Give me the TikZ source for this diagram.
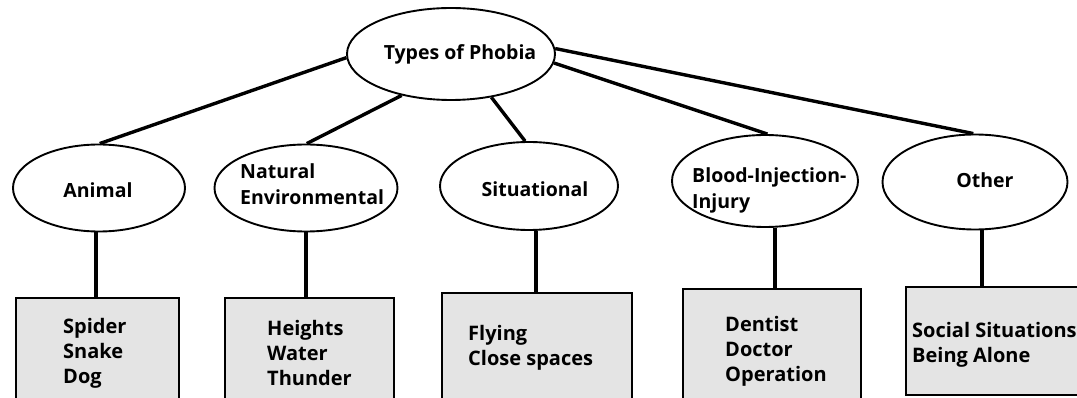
\documentclass[tikz,border=0pt]{standalone}
\usepackage{fontspec}
\setmainfont{Open Sans}
\usetikzlibrary{shapes.geometric}
\definecolor{boxgray}{RGB}{228,228,228}
\begin{document}
\begin{tikzpicture}[x=1pt,y=-1pt,
  oval/.style={draw, ellipse, line width=1.9pt, inner sep=0pt},
  lbl/.style={font=\bfseries\fontsize{19.5}{26}\selectfont, align=left, inner sep=0pt},
  itembox/.style={draw, line width=2.3pt, fill=boxgray, anchor=north west, inner sep=0pt},
  itemtxt/.style={font=\bfseries\fontsize{20}{25}\selectfont, align=left, inner sep=0pt, anchor=west},
  link/.style={line width=3.4pt}]
\useasboundingbox (0,0) rectangle (1077,398);
% ellipses
\node[oval, minimum width=208pt, minimum height=92pt] (root) at (451,54) {};
\node[lbl] (roottxt) at (460,54) {Types of Phobia};
\node[oval, minimum width=172pt, minimum height=87pt] (animal) at (99,188) {};
\node[lbl] (animaltxt) at (98,190) {Animal};
\node[oval, minimum width=183pt, minimum height=87pt] (natural) at (306,188) {};
\node[lbl, anchor=west] (naturaltxt) at (240,184) {Natural\\Environmental};
\node[oval, minimum width=178pt, minimum height=88pt] (situational) at (529,186) {};
\node[lbl] (situationaltxt) at (535,189) {Situational};
\node[oval, minimum width=186pt, minimum height=92pt] (blood) at (765,181) {};
\node[lbl, anchor=west] (bloodtxt) at (692,190) {Blood-Injection-\\Injury};
\node[oval, minimum width=185pt, minimum height=95pt] (other) at (975,182) {};
\node[lbl] (othertxt) at (985,180) {Other};
% boxes
\node[itembox, minimum width=163pt, minimum height=113pt] (animalbox) at (15,297) {};
\node[itemtxt] (animalitems) at (63,353) {Spider\\Snake\\Dog};
\node[itembox, minimum width=169pt, minimum height=113pt] (naturalbox) at (224,297) {};
\node[itemtxt] (naturalitems) at (267,353) {Heights\\Water\\Thunder};
\node[itembox, minimum width=190pt, minimum height=118pt] (situationalbox) at (441,292) {};
\node[itemtxt] (situationalitems) at (468,348) {Flying\\Close spaces};
\node[itembox, minimum width=178pt, minimum height=122pt] (bloodbox) at (682,288) {};
\node[itemtxt] (blooditems) at (725,351) {Dentist\\Doctor\\Operation};
\node[itembox, minimum width=185pt, minimum height=108pt] (otherbox) at (905,286) {};
\node[itemtxt] (otheritems) at (912,344.5) {Social Situations\\Being Alone};
% connectors from root
\draw[link] (root.182) -- (animal.89);
\draw[link] (root.220) -- (natural.89);
\draw[link] (root.313) -- (situational.95);
\draw[link] (root.355) -- (blood.87);
\draw[link] (root.3) -- (other.92);
% vertical connectors
\draw[link] ([xshift=81pt]animalbox.north west) -- ([xshift=81pt]animalbox.north west |- animal.south);
\draw[link] ([xshift=82pt]naturalbox.north west) -- ([xshift=82pt]naturalbox.north west |- natural.south);
\draw[link] ([xshift=95pt]situationalbox.north west) -- ([xshift=95pt]situationalbox.north west |- situational.south);
\draw[link] ([xshift=93pt]bloodbox.north west) -- ([xshift=93pt]bloodbox.north west |- blood.south);
\draw[link] ([xshift=77pt]otherbox.north west) -- ([xshift=77pt]otherbox.north west |- other.south);
\end{tikzpicture}
\end{document}
